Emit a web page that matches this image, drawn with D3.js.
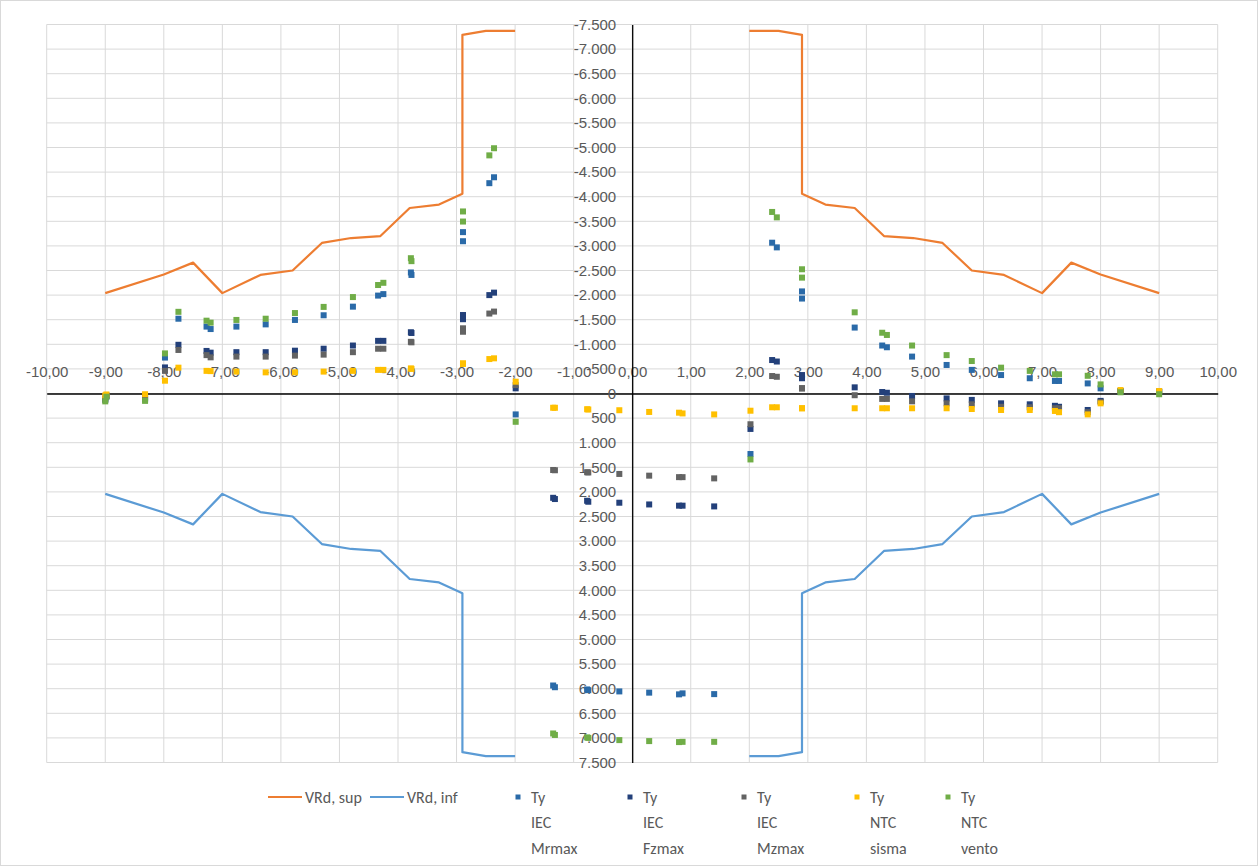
<!DOCTYPE html>
<meta charset="utf-8">
<style>
body { margin: 0; background: #fff; }
svg { display: block; font-family: Calibri, Carlito, "Open Sans", sans-serif; }
.grid line { stroke: #d9d9d9; stroke-width: 1; }
.axis text { fill: #595959; font-size: 15px; }
.axis path { stroke: #000; stroke-width: 1.3; }
.legend text { fill: #595959; font-size: 16px; }
</style>
<svg width="1258" height="866"></svg>
<script src="https://d3js.org/d3.v7.min.js"></script>
<script>

// VRd envelopes (null = gap in the line)
var vrdX =   [-9, -8, -7.5, -7, -6.35, -5.8, -5.3, -4.8, -4.3, -3.8, -3.3, -2.9, -2.9, -2.5, -2.0, null,
              2.0, 2.5, 2.9, 2.9, 3.3, 3.8, 4.3, 4.8, 5.3, 5.8, 6.35, 7, 7.5, 8, 9];
var vrdSup = [-2040, -2420, -2660, -2040, -2410, -2500, -3060, -3160, -3200, -3770, -3840, -4060, -7290, -7370, -7370, null,
              -7370, -7370, -7290, -4060, -3840, -3770, -3200, -3160, -3060, -2500, -2410, -2040, -2660, -2420, -2040];
var vrdInf = [2040, 2420, 2660, 2040, 2410, 2500, 3060, 3160, 3200, 3770, 3840, 4060, 7290, 7370, 7370, null,
              7370, 7370, 7290, 4060, 3840, 3770, 3200, 3160, 3060, 2500, 2410, 2040, 2660, 2420, 2040];

// stations of the Ty points
var tyX = [-9.00, -8.98, -8.32, -7.98, -7.75, -7.27, -7.20, -6.76, -6.26, -5.76, -5.27, -4.77, -4.34, -4.25,
           -3.78, -3.77, -2.89, -2.89, -2.44, -2.36, -1.99, -1.35, -1.32, -0.77, -0.75, -0.22, 0.29, 0.80, 0.86,
           1.40, 2.02, 2.39, 2.47, 2.90, 2.90, 3.80, 4.27, 4.35, 4.78, 5.37, 5.80, 6.30, 6.79, 7.22, 7.29,
           7.78, 8.00, 8.34, 9.00];
var tyIecMrmax = [130, 60, 120, -730, -1520, -1360, -1310, -1360, -1405, -1495, -1590, -1765, -1990, -2020,
           -2460, -2410, -3280, -3095, -4275, -4395, 425, 5935, 5970, 6015, 6030, 6055, 6080, 6115, 6095,
           6110, 1230, -3065, -2970, -2075, -1930, -1340, -975, -940, -750, -580, -480, -375, -310, -255, -255,
           -205, -105, -40, -30];
var tyIecFzmax = [100, 40, 80, -530, -990, -865, -830, -840, -840, -870, -910, -975, -1070, -1070,
           -1245, -1230, -1595, -1510, -2000, -2050, -105, 2120, 2145, 2180, 2200, 2220, 2255, 2280, 2280,
           2295, 720, -680, -650, -375, -310, -125, -30, -15, 50, 100, 130, 200, 220, 250, 270,
           335, 150, -50, -40];
var tyIecMzmax = [120, 50, 100, -460, -885, -780, -735, -750, -750, -770, -790, -840, -910, -910,
           -1050, -1040, -1325, -1255, -1625, -1665, -170, 1555, 1560, 1600, 1605, 1635, 1670, 1700, 1700,
           1725, 625, -355, -340, -110, -100, 35, 110, 110, 160, 200, 220, 270, 280, 300, 300,
           380, 170, -45, -35];
var tyNtcSisma = [40, 20, 15, -260, -525, -460, -455, -445, -430, -430, -445, -460, -480, -480,
           -510, -500, -615, -600, -700, -715, -240, 290, 290, 320, 325, 340, 375, 390, 405,
           425, 350, 280, 280, 300, 300, 300, 300, 300, 300, 300, 315, 335, 335, 355, 380,
           425, 200, -70, -50];
var tyNtcVento = [160, 65, 150, -815, -1660, -1480, -1440, -1495, -1520, -1635, -1760, -1960, -2205, -2250,
           -2750, -2690, -3700, -3495, -4840, -4985, 575, 6910, 6940, 6990, 7000, 7045, 7065, 7085, 7080,
           7080, 1340, -3690, -3580, -2525, -2355, -1650, -1235, -1190, -975, -780, -660, -525, -460, -390, -390,
           -360, -185, -25, 15];

var lineSeries = [
  {name: "VRd, sup", color: "#ed7d31", values: vrdSup},
  {name: "VRd, inf", color: "#5b9bd5", values: vrdInf}
];
var pointSeries = [
  {name: ["Ty", "IEC", "Mrmax"], color: "#2a6aa8", values: tyIecMrmax},
  {name: ["Ty", "IEC", "Fzmax"], color: "#23407a", values: tyIecFzmax},
  {name: ["Ty", "IEC", "Mzmax"], color: "#636363", values: tyIecMzmax},
  {name: ["Ty", "NTC", "sisma"], color: "#ffc000", values: tyNtcSisma},
  {name: ["Ty", "NTC", "vento"], color: "#70ad47", values: tyNtcVento}
];

var svg = d3.select("svg");

var it = d3.formatLocale({decimal: ",", thousands: ".", grouping: [3], currency: ["", "€"], minus: "-"});

var x = d3.scaleLinear().domain([-10, 10]).range([46.7, 1217.7]),
    y = d3.scaleLinear().domain([-7500, 7500]).range([24.5, 762.5]);

var xTicks = d3.range(-10, 10.001, 1),
    yTicks = d3.range(-7500, 7501, 500);

// chart border
svg.append("rect")
  .attr("x", 0.5).attr("y", 0.5).attr("width", 1257).attr("height", 865)
  .attr("fill", "none").attr("stroke", "#d9d9d9");

var grid = svg.append("g").attr("class", "grid");
grid.selectAll(".gx").data(xTicks).enter().append("line")
  .attr("x1", d => x(d)).attr("x2", d => x(d))
  .attr("y1", y(-7500)).attr("y2", y(7500));
grid.selectAll(".gy").data(yTicks).enter().append("line")
  .attr("x1", x(-10)).attr("x2", x(10))
  .attr("y1", d => y(d)).attr("y2", d => y(d));

svg.append("g")
  .attr("class", "axis")
  .attr("transform", "translate(0," + y(0) + ")")
  .call(d3.axisTop(x).tickValues(xTicks).tickSize(0).tickPadding(17).tickFormat(it.format(",.2f")));

svg.append("g")
  .attr("class", "axis")
  .attr("transform", "translate(" + x(0) + ",0)")
  .call(d3.axisLeft(y).tickValues(yTicks).tickSize(0).tickPadding(16).tickFormat(it.format(",.0f")));

svg.selectAll(".axis .domain").attr("fill", "none");

var line = d3.line()
  .defined((d, i) => d != null && vrdX[i] != null)
  .x((d, i) => x(vrdX[i]))
  .y(d => y(d));

svg.append("g").selectAll("path")
  .data(lineSeries).enter().append("path")
  .attr("d", d => line(d.values))
  .attr("fill", "none")
  .attr("stroke", d => d.color)
  .attr("stroke-width", 2.2)
  .attr("stroke-linejoin", "round");

var ms = 6;
pointSeries.forEach(function(s) {
  svg.append("g").selectAll("rect")
    .data(s.values).enter().append("rect")
    .attr("x", (d, i) => x(tyX[i]) - ms / 2)
    .attr("y", d => y(d) - ms / 2)
    .attr("width", ms).attr("height", ms)
    .attr("fill", s.color);
});

// legend
var legend = svg.append("g").attr("class", "legend");
var lineLeg = [268, 370];
lineSeries.forEach(function(s, i) {
  legend.append("line")
    .attr("x1", lineLeg[i]).attr("x2", lineLeg[i] + 34)
    .attr("y1", 797).attr("y2", 797)
    .attr("stroke", s.color).attr("stroke-width", 2.2);
  legend.append("text")
    .attr("x", lineLeg[i] + 37).attr("y", 797).attr("dy", "0.35em")
    .text(s.name);
});
var ptLeg = [518, 630, 744, 857, 948];
pointSeries.forEach(function(s, i) {
  legend.append("rect")
    .attr("x", ptLeg[i] - 2.5).attr("y", 797 - 2.5)
    .attr("width", 5).attr("height", 5)
    .attr("fill", s.color);
  legend.append("text")
    .attr("x", ptLeg[i] + 13).attr("y", 797)
    .selectAll("tspan").data(s.name).enter().append("tspan")
    .attr("x", ptLeg[i] + 13)
    .attr("dy", (d, j) => j === 0 ? "0.35em" : "25.5px")
    .text(d => d);
});

</script>
